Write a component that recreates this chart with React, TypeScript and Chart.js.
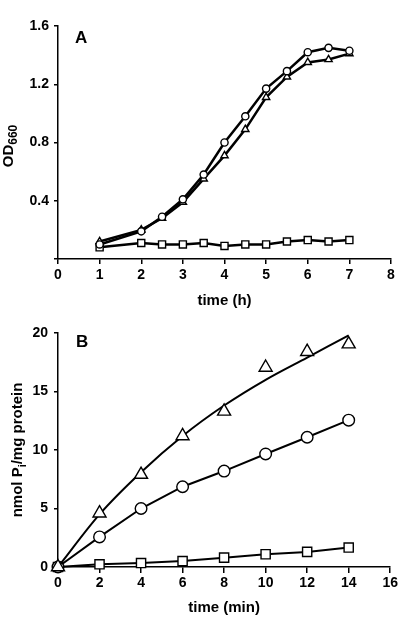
import React, { useEffect, useRef } from "react";
import { Chart, registerables } from "chart.js";

Chart.register(...registerables);

const FONT = '"Liberation Sans", Arial, Helvetica, sans-serif';

// ---------- Panel A: growth (OD660 vs time in h) ----------
const timeHours = [1, 2, 2.5, 3, 3.5, 4, 4.5, 5, 5.5, 6, 6.5, 7];
const odCircle = [0.1, 0.19, 0.29, 0.41, 0.58, 0.8, 0.98, 1.17, 1.29, 1.42, 1.45, 1.43];
const odTriangle = [0.12, 0.2, 0.28, 0.39, 0.55, 0.71, 0.89, 1.11, 1.25, 1.35, 1.37, 1.41];
const odSquare = [0.08, 0.11, 0.1, 0.1, 0.11, 0.09, 0.1, 0.1, 0.12, 0.13, 0.12, 0.13];
const xTicksA = { min: 0, max: 8, step: 1 };
const yTicksA = { min: 0, max: 1.6, step: 0.4 };

// ---------- Panel B: Pi release (nmol Pi/mg protein vs time in min) ----------
const timeMin = [0, 2, 4, 6, 8, 10, 12, 14];
const piTriangle = [0, 4.6, 7.9, 11.2, 13.3, 17.05, 18.4, 19.05];
const piTriangleFit = [0, 4.5, 8.1, 11.2, 13.8, 16.0, 17.9, 19.8];
const piCircle = [0, 2.57, 5.0, 6.86, 8.2, 9.66, 11.09, 12.55];
const piSquare = [0, 0.23, 0.34, 0.51, 0.8, 1.09, 1.29, 1.66];
const xTicksB = { min: 0, max: 16, step: 2 };
const yTicksB = { min: 0, max: 20, step: 5 };

const W = 400;
const H = 311;

type Part = { text: string; size: number; dy: number };

function overlayPlugin(letter: string, lx: number, ly: number, parts: Part[], tx: number, ty: number) {
  return {
    id: "overlay",
    afterDraw(chart: any) {
      const ctx = chart.ctx as CanvasRenderingContext2D;
      ctx.save();
      ctx.fillStyle = "#000";
      ctx.textAlign = "left";
      ctx.textBaseline = "alphabetic";
      ctx.font = `bold 17px ${FONT}`;
      ctx.fillText(letter, lx, ly);
      ctx.translate(tx, ty);
      ctx.rotate(-Math.PI / 2);
      let total = 0;
      const widths = parts.map((p) => {
        ctx.font = `bold ${p.size}px ${FONT}`;
        const w = ctx.measureText(p.text).width;
        total += w;
        return w;
      });
      let x = -total / 2;
      parts.forEach((p, i) => {
        ctx.font = `bold ${p.size}px ${FONT}`;
        ctx.fillText(p.text, x, p.dy);
        x += widths[i];
      });
      ctx.restore();
    },
  };
}

function axis(tickLen: number, pad: number) {
  return {
    type: "linear" as const,
    border: { display: true, color: "#000", width: 1.5 },
    grid: {
      display: true,
      drawOnChartArea: false,
      drawTicks: true,
      tickLength: tickLen,
      color: "#000",
      lineWidth: 1.5,
    },
    ticks: {
      color: "#000",
      font: { family: FONT, size: 14, weight: "bold" as const },
      padding: pad,
      maxRotation: 0,
      autoSkip: false,
    },
  };
}

function pts(xs: number[], ys: number[]) {
  return xs.map((x, i) => ({ x, y: ys[i] }));
}

function marker(style: string, radius: number, lineW: number) {
  return {
    borderColor: "#000",
    borderWidth: lineW,
    pointStyle: style,
    pointRadius: radius,
    pointHoverRadius: radius,
    pointBorderWidth: 1.4,
    pointBorderColor: "#000",
    pointBackgroundColor: "#fff",
    tension: 0,
    clip: false as const,
    fill: false,
  };
}

function configA(): any {
  const x = axis(5, 3);
  const y = axis(4, 5);
  return {
    type: "line",
    data: {
      datasets: [
        { label: "circle", data: pts(timeHours, odCircle), ...marker("circle", 3.6, 2.5) },
        { label: "triangle", data: pts(timeHours, odTriangle), ...marker("triangle", 4.2, 2.5) },
        { label: "square", data: pts(timeHours, odSquare), ...marker("rect", 5, 2.5) },
      ],
    },
    options: {
      animation: false,
      responsive: false,
      devicePixelRatio: 1,
      events: [],
      layout: { padding: { top: 26, right: 9, left: 0, bottom: 0 } },
      plugins: { legend: { display: false }, tooltip: { enabled: false } },
      scales: {
        x: {
          ...x,
          min: xTicksA.min,
          max: xTicksA.max,
          ticks: { ...x.ticks, stepSize: xTicksA.step },
          title: {
            display: true,
            text: "time (h)",
            color: "#000",
            font: { family: FONT, size: 15, weight: "bold" },
            padding: { top: 0, bottom: 1 },
          },
          afterFit: (s: any) => {
            s.height = 52;
          },
        },
        y: {
          ...y,
          min: yTicksA.min,
          max: yTicksA.max,
          ticks: {
            ...y.ticks,
            stepSize: yTicksA.step,
            callback: (v: any) => (Number(v) === 0 ? "" : Number(v).toFixed(1)),
          },
          afterFit: (s: any) => {
            s.width = 58;
          },
        },
      },
    },
    plugins: [
      overlayPlugin(
        "A",
        75,
        43,
        [
          { text: "OD", size: 15, dy: 0 },
          { text: "660", size: 12, dy: 4 },
        ],
        13,
        146
      ),
    ],
  };
}

function configB(): any {
  const x = axis(6, 2);
  const y = axis(4, 6);
  return {
    type: "line",
    data: {
      datasets: [
        { label: "triangle", data: pts(timeMin, piTriangle), ...marker("triangle", 7.5, 2), showLine: false },
        { label: "triangle fit", data: pts(timeMin, piTriangleFit), ...marker("circle", 0, 2), cubicInterpolationMode: "monotone" },
        { label: "circle", data: pts(timeMin, piCircle), ...marker("circle", 5.8, 2) },
        { label: "square", data: pts(timeMin, piSquare), ...marker("rect", 6.5, 2) },
      ],
    },
    options: {
      animation: false,
      responsive: false,
      devicePixelRatio: 1,
      events: [],
      layout: { padding: { top: 22, right: 9, left: 0, bottom: 0 } },
      plugins: { legend: { display: false }, tooltip: { enabled: false } },
      scales: {
        x: {
          ...x,
          min: xTicksB.min,
          max: xTicksB.max,
          ticks: { ...x.ticks, stepSize: xTicksB.step },
          title: {
            display: true,
            text: "time (min)",
            color: "#000",
            font: { family: FONT, size: 15, weight: "bold" },
            padding: { top: 0, bottom: 5 },
          },
          afterFit: (s: any) => {
            s.height = 55;
          },
        },
        y: {
          ...y,
          min: yTicksB.min,
          max: yTicksB.max,
          ticks: { ...y.ticks, stepSize: yTicksB.step },
          afterFit: (s: any) => {
            s.width = 58;
          },
        },
      },
    },
    plugins: [
      overlayPlugin(
        "B",
        76,
        36,
        [
          { text: "nmol P", size: 15, dy: 0 },
          { text: "i", size: 11, dy: 4 },
          { text: "/mg protein", size: 15, dy: 0 },
        ],
        22,
        139
      ),
    ],
  };
}

function Panel({ make, top }: { make: () => any; top: number }) {
  const ref = useRef<HTMLCanvasElement | null>(null);
  useEffect(() => {
    if (!ref.current) return;
    const chart = new Chart(ref.current, make());
    return () => chart.destroy();
  }, [make]);
  return (
    <canvas
      ref={ref}
      width={W}
      height={H}
      style={{ position: "absolute", left: 0, top, width: W, height: H, display: "block" }}
    />
  );
}

export default function App() {
  return (
    <div style={{ position: "absolute", left: 0, top: 0, width: 400, height: 622, background: "#fff", overflow: "hidden" }}>
      <Panel make={configA} top={0} />
      <Panel make={configB} top={311} />
    </div>
  );
}
